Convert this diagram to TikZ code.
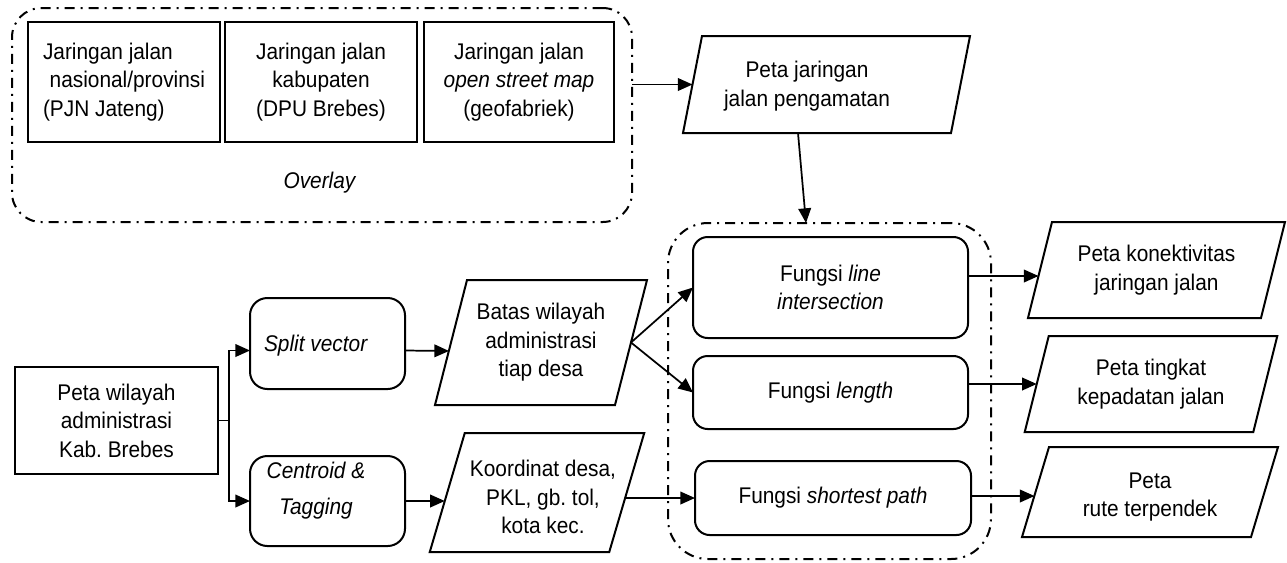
\documentclass[tikz,border=0pt]{standalone}
\usepackage{fontspec}
\setmainfont{Liberation Sans}[FakeStretch=0.92]
\usetikzlibrary{calc,arrows.meta}
\frenchspacing
\begin{document}
\begin{tikzpicture}[x=0.75pt,y=-0.75pt,
  font=\fontsize{17}{21.4}\selectfont,
  box/.style={draw, line width=1.5pt, align=center, inner sep=0pt, outer sep=0pt},
  rbox/.style={box, rounded corners=11pt},
  para/.style={align=center, inner sep=0pt, outer sep=0pt},
  txt/.style={align=center, inner sep=0pt},
  grp/.style={draw, line width=1.5pt, dash pattern=on 7.5pt off 4.5pt on 1.5pt off 4.5pt, outer sep=0pt, inner sep=0pt},
  arr/.style={-{Triangle[length=11pt,width=9.5pt]}, line width=1.3pt}]
\useasboundingbox (0,0) rectangle (1287,562);

% overlay group
\node[grp, rounded corners=22pt, minimum width=465pt, minimum height=160.5pt] (ovl) at (322,115) {};
\node[box, minimum width=144pt, minimum height=90pt, align=left] (b1) at (124,82) {Jaringan jalan\\\hspace*{5pt}nasional/provinsi\\(PJN Jateng)};
\node[box, minimum width=144pt, minimum height=90pt] (b2) at (321,82) {Jaringan jalan\\kabupaten\\(DPU Brebes)};
\node[box, minimum width=142.5pt, minimum height=90pt] (b3) at (519,82) {Jaringan jalan\\\textit{open street map}\\(geofabriek)};
\node[txt] (ovt) at (320,183) {\textit{Overlay}};

% observed road network
\node[para, minimum width=201pt, minimum height=72.75pt] (pj) at (826.5,84.5) {};
\node[txt] (pjt) at (807,86) {Peta jaringan\\jalan pengamatan};

% function group
\node[grp, rounded corners=30pt, minimum width=242.25pt, minimum height=252pt] (fg) at (829.5,391) {};
\node[rbox, minimum width=206.25pt, minimum height=75.75pt] (li) at (830.5,287.5) {Fungsi \textit{line}\\\textit{intersection}};
\node[rbox, minimum width=206.25pt, minimum height=54.75pt] (len) at (830.5,392.5) {Fungsi \textit{length}};
\node[rbox, minimum width=207pt, minimum height=55.5pt] (sp) at (833,498) {Fungsi \textit{shortest path}};

% left part
\node[box, minimum width=152.25pt, minimum height=80.25pt] (wil) at (116.5,420.5) {Peta wilayah\\administrasi\\Kab. Brebes};
\node[rbox, rounded corners=13pt, minimum width=116.25pt, minimum height=68.25pt] (spl) at (327.5,343.5) {};
\node[txt] (splt) at (316,346) {\textit{Split vector}};
\node[rbox, rounded corners=13pt, minimum width=116.25pt, minimum height=67.5pt] (cent) at (327.5,501) {};
\node[txt] (centt) at (316,491) {\textit{Centroid \&}\\[5.6pt]\textit{Tagging}};

\node[para, minimum width=135pt, minimum height=93.75pt] (batas) at (541,342.5) {Batas wilayah\\administrasi\\tiap desa};
\node[para, minimum width=134.6pt, minimum height=89.25pt] (koord) at (537,492.5) {};
\node[txt] (koordt) at (543,497) {Koordinat desa,\\PKL, gb. tol,\\kota kec.};

% outputs
\node[para, minimum width=174.75pt, minimum height=72pt] (p1) at (1156.5,270) {Peta konektivitas\\jaringan jalan};
\node[para, minimum width=171.4pt, minimum height=72pt] (p2) at (1151,384) {Peta tingkat\\kepadatan jalan};
\node[para, minimum width=171.75pt, minimum height=67.5pt] (p3) at (1150,492) {};
\node[txt] (p3t) at (1150,497) {Peta\\rute terpendek};

% parallelogram outlines
\foreach \n/\s in {pj/9.5, batas/16, koord/17.5, p1/12, p2/12, p3/13.5}
  \draw[line width=1.5pt, line join=miter]
    ($(\n.north west)+(\s,0)$) -- ($(\n.north east)+(\s,0)$) --
    ($(\n.south east)+(-\s,0)$) -- ($(\n.south west)+(-\s,0)$) -- cycle;

% connectors
\draw[arr] (ovl.east |- pj.west) -- (pj.west);
\draw[arr] ($(pj.south)+(-28.5,0)$) -- ($(fg.north)+(-23.5,0)$);
\draw[arr] (wil.east) -- ++(11,0) |- ($(spl.west)+(0,7)$);
\draw[arr] (wil.east) -- ++(11,0) |- (cent.west);
\draw[arr] ($(spl.east)+(0,7)$) -- ($(batas.west)+(-2,8.5)$);
\draw[arr] (cent.east) -- ($(koord.west)+(-2.5,8.5)$);
\draw[arr] (batas.east) -- (li.west);
\draw[arr] (batas.east) -- (len.west);
\draw[arr] ($(koord.east)+(-1.5,5.5)$) -- (sp.west);
\draw[arr] ($(li.east)+(0,-11.5)$) -- ($(p1.west)+(-1.5,6)$);
\draw[arr] (len.east |- p2.west) -- (p2.west);
\draw[arr] ($(sp.east)+(0,-2)$) -- ($(p3.west)+(-1,4)$);
\end{tikzpicture}
\end{document}
